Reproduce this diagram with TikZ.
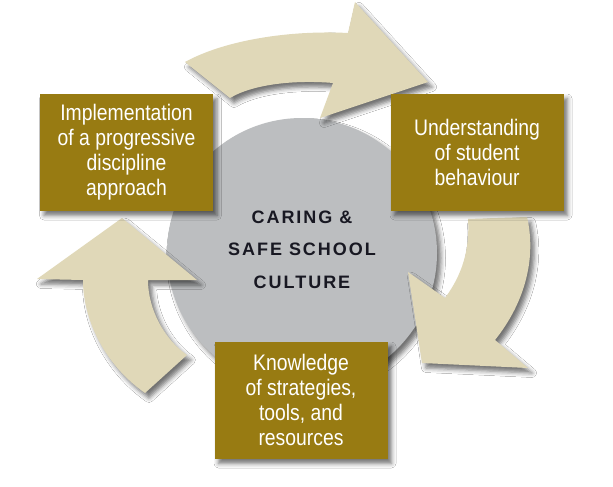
\documentclass[tikz,border=0pt]{standalone}
\usepackage{fontspec}
\newfontfamily\boxfont{Liberation Sans}[FakeStretch=0.86]
\newfontfamily\centerfont{Liberation Sans}[LetterSpace=11]
\usetikzlibrary{shadows.blur}
\definecolor{boxgold}{RGB}{152,123,18}
\definecolor{arrowbeige}{RGB}{224,216,184}
\definecolor{circlegray}{RGB}{188,190,192}
\definecolor{navytext}{RGB}{24,24,34}
\begin{document}
\begin{tikzpicture}[x=1pt,y=-1pt,
  shad/.style={blur shadow={shadow xshift=4pt,shadow yshift=-5pt,shadow blur radius=4.5pt,shadow opacity=55}},
  stagebox/.style={fill=boxgold, text=white, minimum width=173pt, minimum height=117pt, inner sep=0pt, align=center, font=\boxfont\fontsize{22.5}{25}\selectfont, shad},
  cyclearrow/.style={fill=arrowbeige, shad},
  hub/.style={circle, fill=circlegray, minimum size=270pt, inner sep=0pt, shad},
  hubtext/.style={align=center, text=navytext, inner sep=0pt, font=\centerfont\bfseries\fontsize{18}{32.5}\selectfont}]
\useasboundingbox (0,0) rectangle (613,487);
\fill[white] (0,0) rectangle (613,487);
\node[hub] (culture) at (302,253) {};
\node[hubtext] (culturetext) at (302,249.5) {CARING \&\\SAFE SCHOOL\\CULTURE};
% top arrow
\path[cyclearrow] (185,62) .. controls (225,40) and (290,30) .. (348,33)
  -- (355,2) -- (428,82) -- (320,118) -- (333,83)
  .. controls (300,80) and (255,83) .. (230,98) -- cycle;
% right arrow
\path[cyclearrow] (468,219) -- (527,217) .. controls (536,255) and (527,300) .. (495,340)
  -- (528,368) -- (422,363) -- (408,272) -- (445,298)
  .. controls (462,275) and (470,250) .. (468,219) -- cycle;
% left arrow
\path[cyclearrow] (122,218) -- (197,280) -- (148,280)
  .. controls (148,310) and (165,340) .. (187,355) -- (145,393)
  .. controls (105,365) and (83,320) .. (83,280) -- (37,279) -- cycle;
\node[stagebox] (impl) at (126.5,152) {Implementation\\of a progressive\\discipline\\approach};
\node[stagebox] (under) at (477,152) {Understanding\\of student\\behaviour};
\node[stagebox] (know) at (301,400) {Knowledge\\of strategies,\\tools, and\\resources};
\end{tikzpicture}
\end{document}
